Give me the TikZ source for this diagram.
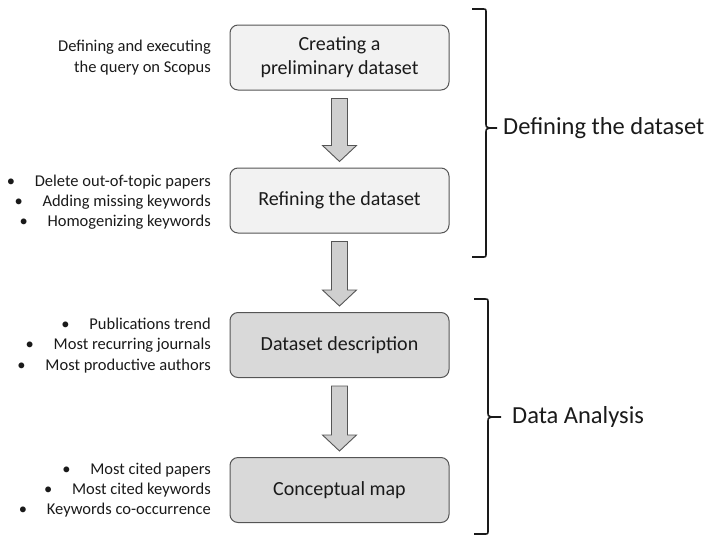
\documentclass[tikz,border=0pt]{standalone}
\usepackage{fontspec}
\setmainfont{Carlito}
\usetikzlibrary{calc}

\definecolor{lightfill}{HTML}{F2F2F2}
\definecolor{darkfill}{HTML}{D9D9D9}
\definecolor{arrowfill}{HTML}{CFCFCF}
\definecolor{edgegray}{HTML}{555555}
\definecolor{inkcol}{HTML}{1A1A1A}

% block arrow between the bottom of one stage and the top of the next
\newcommand\flowarrow[2]{%
  \draw[blockarrow]
    ($(#1.south)+(-8,8)$) -- ($(#1.south)+(8,8)$)
    -- ($(#2.north)+(8,-22)$) -- ($(#2.north)+(17,-22)$)
    -- ($(#2.north)+(0,-6)$)
    -- ($(#2.north)+(-17,-22)$) -- ($(#2.north)+(-8,-22)$) -- cycle;}

% curly bracket opening to the left, its point at the named coordinate
\newcommand\sidebrace[4]{% x, top, bottom, tip coordinate
  \draw[bracestyle] (#1-14,#2) -- (#1-4,#2) .. controls (#1,#2) .. (#1,#2+4)
    -- ($(#4)+(#1-\pgfkeysvalueof{/tikz/bracetipx},-5)$)
    .. controls ($(#4)+(#1-\pgfkeysvalueof{/tikz/bracetipx},-1)$) .. ($(#4)+(#1-\pgfkeysvalueof{/tikz/bracetipx}+4,0)$)
    -- (#4)
    ($(#4)+(#1-\pgfkeysvalueof{/tikz/bracetipx}+4,0)$)
    .. controls ($(#4)+(#1-\pgfkeysvalueof{/tikz/bracetipx},1)$) .. ($(#4)+(#1-\pgfkeysvalueof{/tikz/bracetipx},5)$)
    -- (#1,#3-4) .. controls (#1,#3) .. (#1-4,#3) -- (#1-14,#3);}

\begin{document}
\begin{tikzpicture}[x=1pt,y=-1pt,
  stagebox/.style={draw=edgegray, line width=1pt, rounded corners=8pt,
    minimum width=219pt, minimum height=65pt, align=center,
    font=\fontsize{20}{24}\selectfont, text=inkcol},
  lightstage/.style={stagebox, fill=lightfill},
  darkstage/.style={stagebox, fill=darkfill},
  sidenote/.style={anchor=east, align=right, inner sep=0pt,
    font=\fontsize{16.5}{20.3}\selectfont, text=inkcol},
  blockarrow/.style={draw=edgegray, line width=0.9pt, fill=arrowfill, line join=miter},
  bracestyle/.style={draw=inkcol, line width=1.6pt},
  bracelabel/.style={anchor=west, inner sep=0pt,
    font=\fontsize{24.5}{28}\selectfont, text=inkcol},
  /tikz/bracetipx/.initial=0,
]
\useasboundingbox (0,0) rectangle (709,536);

% stages
\node[lightstage] (create) at (339.5,57.5) {Creating a\\preliminary dataset};
\node[lightstage] (refine) at (339.5,200.5) {Refining the dataset};
\node[darkstage]  (describe) at (339.5,345) {Dataset description};
\node[darkstage]  (concept) at (339.5,490) {Conceptual map};

% arrows between stages
\flowarrow{create}{refine}
\flowarrow{refine}{describe}
\flowarrow{describe}{concept}

% notes to the left of each stage
\newcommand\bul{\makebox[28pt][l]{\raisebox{0pt}{•}}}
\node[sidenote] (noteA) at (211,57.5) {Defining and executing\\the query on Scopus};
\node[sidenote] (noteB) at (211,202) {\bul Delete out-of-topic papers\\\bul Adding missing keywords\\\bul Homogenizing keywords};
\node[sidenote] (noteC) at (211,345.5) {\bul Publications trend\\\bul Most recurring journals\\\bul Most productive authors};
\node[sidenote] (noteD) at (211,490) {\bul Most cited papers\\\bul Most cited keywords\\\bul Keywords co-occurrence};

% grouping brackets
\coordinate (tipA) at (497,128);
\coordinate (tipB) at (501,417);
\tikzset{bracetipx=497}
\sidebrace{486}{9}{257}{tipA}
\tikzset{bracetipx=501}
\sidebrace{488}{299}{534}{tipB}

\node[bracelabel] (groupA) at (503,128) {Defining the dataset};
\node[bracelabel] (groupB) at (512,417) {Data Analysis};
\end{tikzpicture}
\end{document}
